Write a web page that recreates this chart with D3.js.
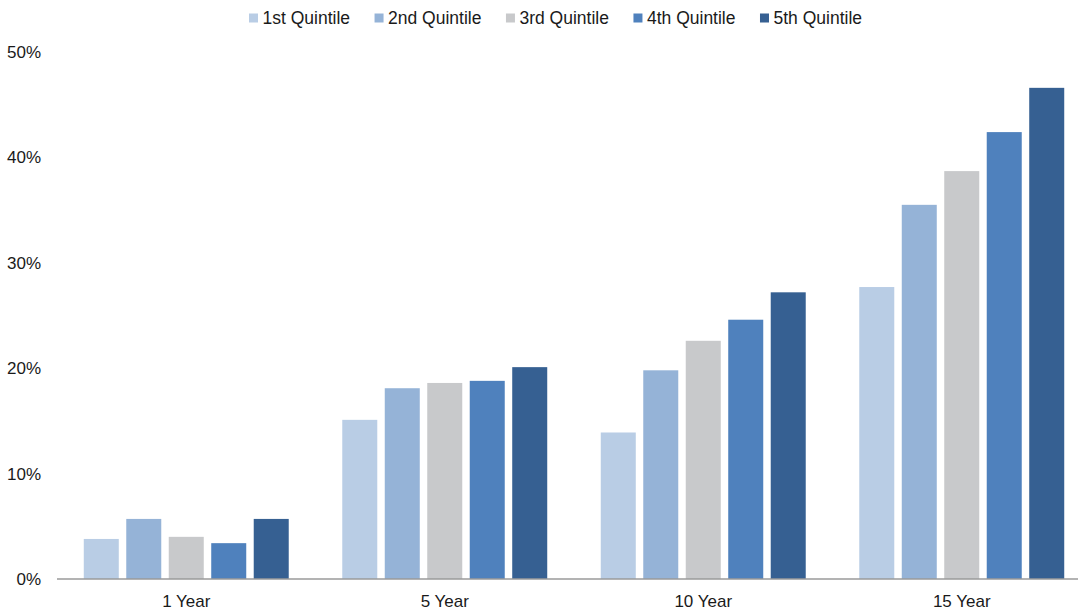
<!DOCTYPE html>
<html>
<head>
<meta charset="utf-8">
<script src="https://cdn.jsdelivr.net/npm/d3@7"></script>
<style>
  html, body { margin: 0; padding: 0; background: #fff; }
  svg { display: block; font-family: "Liberation Sans", Arial, sans-serif; }
</style>
</head>
<body>
<svg id="chart" width="1078" height="612"></svg>
<script>
// Horizon categories and quintile series
const categories = ["1 Year", "5 Year", "10 Year", "15 Year"];
const seriesNames = ["1st Quintile", "2nd Quintile", "3rd Quintile", "4th Quintile", "5th Quintile"];
const q1 = [3.8, 15.1, 13.9, 27.7];
const q2 = [5.7, 18.1, 19.8, 35.5];
const q3 = [4.0, 18.6, 22.6, 38.7];
const q4 = [3.4, 18.8, 24.6, 42.4];
const q5 = [5.7, 20.1, 27.2, 46.6];
const yTicks = [0, 10, 20, 30, 40, 50];
const colors = ["#B9CDE5", "#95B3D7", "#C8C9CB", "#4F81BD", "#366092"];

const seriesValues = [q1, q2, q3, q4, q5];

const svg = d3.select("#chart");
const W = 1078, H = 612;
const plot = { left: 57, right: 1091, top: 52, bottom: 579 };
const textColor = "#1a1a1a";

const x0 = d3.scaleBand().domain(categories).range([plot.left, plot.right]).padding(0);
const x1 = d3.scaleBand().domain(seriesNames).range([0, x0.bandwidth()])
  .paddingInner(0.176).paddingOuter(0.63);
const y = d3.scaleLinear().domain([0, 50]).range([plot.bottom, plot.top]);

// Y axis labels (no axis line, no ticks)
const yAxis = d3.axisLeft(y).tickValues(yTicks).tickFormat(d => d + "%").tickSize(0).tickPadding(0);
const gy = svg.append("g").attr("transform", `translate(41,0)`).call(yAxis);
gy.select(".domain").remove();
gy.selectAll("text").attr("font-size", 17).attr("fill", textColor)
  .attr("font-family", "'Liberation Sans', Arial, sans-serif");

// Bars
const groups = svg.append("g").selectAll("g")
  .data(categories)
  .join("g")
  .attr("transform", d => `translate(${x0(d)},0)`);

groups.selectAll("rect")
  .data((c, ci) => seriesNames.map((s, si) => ({ s, si, v: seriesValues[si][ci] })))
  .join("rect")
  .attr("x", d => x1(d.s))
  .attr("width", x1.bandwidth())
  .attr("y", d => y(d.v))
  .attr("height", d => y(0) - y(d.v))
  .attr("fill", d => colors[d.si]);

// Baseline
svg.append("line")
  .attr("x1", plot.left).attr("x2", W)
  .attr("y1", y(0)).attr("y2", y(0))
  .attr("stroke", "#9a9a9a").attr("stroke-width", 1.5);

// X axis labels
const xAxis = d3.axisBottom(x0).tickSize(0).tickPadding(0);
const gx = svg.append("g").attr("transform", `translate(0,${y(0) + 16})`).call(xAxis);
gx.select(".domain").remove();
gx.selectAll("text").attr("font-size", 17).attr("fill", textColor)
  .attr("font-family", "'Liberation Sans', Arial, sans-serif");

// Legend
const legend = svg.append("g").attr("transform", "translate(249,18)");
let lx = 0;
seriesNames.forEach((name, i) => {
  const item = legend.append("g").attr("transform", `translate(${lx},0)`);
  item.append("rect").attr("x", 0).attr("y", -4.5).attr("width", 9).attr("height", 9)
    .attr("fill", colors[i]);
  const t = item.append("text").attr("x", 13.5).attr("y", 0).attr("dy", "0.35em")
    .attr("font-size", 17.5).attr("fill", textColor).text(name);
  lx += 13.5 + t.node().getComputedTextLength() + 24.5;
});
</script>
</body>
</html>
